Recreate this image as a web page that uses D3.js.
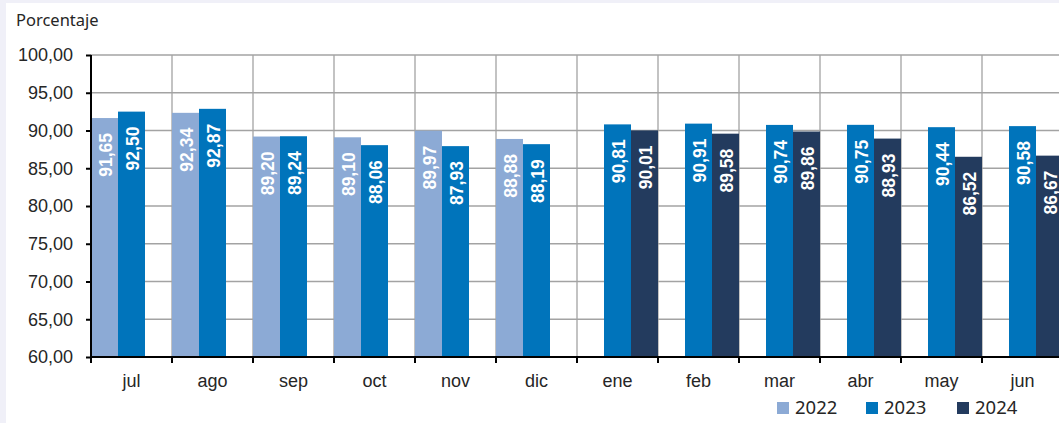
<!DOCTYPE html>
<html>
<head>
<meta charset="utf-8">
<script src="https://cdn.jsdelivr.net/npm/d3@7"></script>
<style>
    body { margin: 0; background: #f0f0f8; }
    svg { display: block; }
</style>
</head>
<body>
<svg id="chart" width="1059" height="423"></svg>
<script>
// months (jul 2023 - jun 2024 in the source table)
var months = ["jul", "ago", "sep", "oct", "nov", "dic", "ene", "feb", "mar", "abr", "may", "jun"];
var seriesNames = ["2022", "2023", "2024"];

// percentage per month, null where the year has no bar
var v2022 = [91.65, 92.34, 89.20, 89.10, 89.97, 88.88, null, null, null, null, null, null];
var v2023 = [92.50, 92.87, 89.24, 88.06, 87.93, 88.19, 90.81, 90.91, 90.74, 90.75, 90.44, 90.58];
var v2024 = [null, null, null, null, null, null, 90.01, 89.58, 89.86, 88.93, 86.52, 86.67];

var yTicks = [60, 65, 70, 75, 80, 85, 90, 95, 100];
var colors = ["#8CAAD5", "#0074BB", "#233B5E"];

var svg = d3.select("#chart");

// white chart area, with the light frame on top/left
svg.append("rect")
    .attr("x", 6).attr("y", 3)
    .attr("width", 1059).attr("height", 423)
    .attr("fill", "#ffffff");

var x0 = d3.scaleBand()
    .domain(months)
    .range([91, 91 + 81 * 12])
    .padding(0);

var x1 = d3.scaleBand()
    .domain(seriesNames)
    .range([0, x0.bandwidth()])
    .padding(0);

var y = d3.scaleLinear()
    .domain([60, 100])
    .range([357, 55]);

var fmt = function(v) { return v.toFixed(2).replace(".", ","); };

// horizontal grid
svg.append("g")
    .selectAll("line")
    .data(yTicks.slice(1))
    .enter().append("line")
    .attr("x1", 91).attr("x2", 1059)
    .attr("y1", function(d) { return y(d); })
    .attr("y2", function(d) { return y(d); })
    .attr("stroke", "#a3a3a3")
    .attr("stroke-width", 1.3);

// vertical grid at category borders
svg.append("g")
    .selectAll("line")
    .data(months.slice(1))
    .enter().append("line")
    .attr("x1", function(d) { return x0(d); })
    .attr("x2", function(d) { return x0(d); })
    .attr("y1", y(100)).attr("y2", y(60))
    .attr("stroke", "#a3a3a3")
    .attr("stroke-width", 1.3);

// build flat list of bars
var bars = [];
var allSeries = [v2022, v2023, v2024];
months.forEach(function(m, i) {
    allSeries.forEach(function(s, j) {
        if (s[i] != null) {
            bars.push({month: m, series: seriesNames[j], value: s[i], color: colors[j]});
        }
    });
});

svg.append("g")
    .selectAll("rect")
    .data(bars)
    .enter().append("rect")
    .attr("x", function(d) { return x0(d.month) + x1(d.series); })
    .attr("width", x1.bandwidth())
    .attr("y", function(d) { return y(d.value); })
    .attr("height", function(d) { return y(60) - y(d.value); })
    .attr("fill", function(d) { return d.color; });

// value labels inside the bars, rotated
svg.append("g")
    .selectAll("text")
    .data(bars)
    .enter().append("text")
    .attr("transform", function(d) {
        var cx = x0(d.month) + x1(d.series) + x1.bandwidth() / 2 + 1;
        return "translate(" + cx + "," + (y(d.value) + 15) + ") rotate(-90)";
    })
    .attr("text-anchor", "end")
    .attr("dominant-baseline", "central")
    .attr("fill", "#ffffff")
    .style("font-family", "'Liberation Sans', Arial, sans-serif")
    .style("font-weight", "bold")
    .style("font-size", "17.5px")
    .text(function(d) { return fmt(d.value); });

// y axis
var yAxis = d3.axisLeft(y)
    .tickValues(yTicks)
    .tickSize(5)
    .tickPadding(13)
    .tickFormat(fmt);

var gy = svg.append("g")
    .attr("transform", "translate(91,0)")
    .call(yAxis);
gy.select(".domain").attr("stroke", "#000").attr("stroke-width", 2).attr("d", "M0," + y(100) + "V" + y(60));
gy.selectAll(".tick line").attr("stroke", "#000").attr("stroke-width", 2);
gy.selectAll(".tick text")
    .attr("fill", "#262626")
    .style("font-family", "'Liberation Sans', Arial, sans-serif")
    .style("font-size", "18px");

// x axis
var xAxis = d3.axisBottom(x0).tickSize(0).tickPadding(0);
var gx = svg.append("g")
    .attr("transform", "translate(0," + y(60) + ")")
    .call(xAxis);
gx.select(".domain").attr("stroke", "#000").attr("stroke-width", 2).attr("d", "M91,0H1059");
gx.selectAll(".tick text")
    .attr("y", 30)
    .attr("dy", 0)
    .attr("fill", "#262626")
    .style("font-family", "'Liberation Sans', Arial, sans-serif")
    .style("font-size", "18px");

// tick marks on category borders
svg.append("g")
    .selectAll("line")
    .data(months)
    .enter().append("line")
    .attr("x1", function(d) { return x0(d); })
    .attr("x2", function(d) { return x0(d); })
    .attr("y1", y(60)).attr("y2", y(60) + 6)
    .attr("stroke", "#000")
    .attr("stroke-width", 2);

// axis title
svg.append("text")
    .attr("x", 16).attr("y", 26)
    .attr("fill", "#262626")
    .style("font-family", "'Noto Sans', sans-serif")
    .style("font-size", "16.5px")
    .text("Porcentaje");

// legend
var legendX = [777, 866, 957];
var legend = svg.append("g")
    .selectAll("g")
    .data(seriesNames)
    .enter().append("g")
    .attr("transform", function(d, i) { return "translate(" + legendX[i] + ",402)"; });
legend.append("rect")
    .attr("width", 12).attr("height", 12)
    .attr("fill", function(d, i) { return colors[i]; });
legend.append("text")
    .attr("x", 18).attr("y", 12)
    .attr("fill", "#262626")
    .style("font-family", "'Noto Sans', sans-serif")
    .style("font-size", "18.5px")
    .text(function(d) { return d; });
</script>
</body>
</html>
